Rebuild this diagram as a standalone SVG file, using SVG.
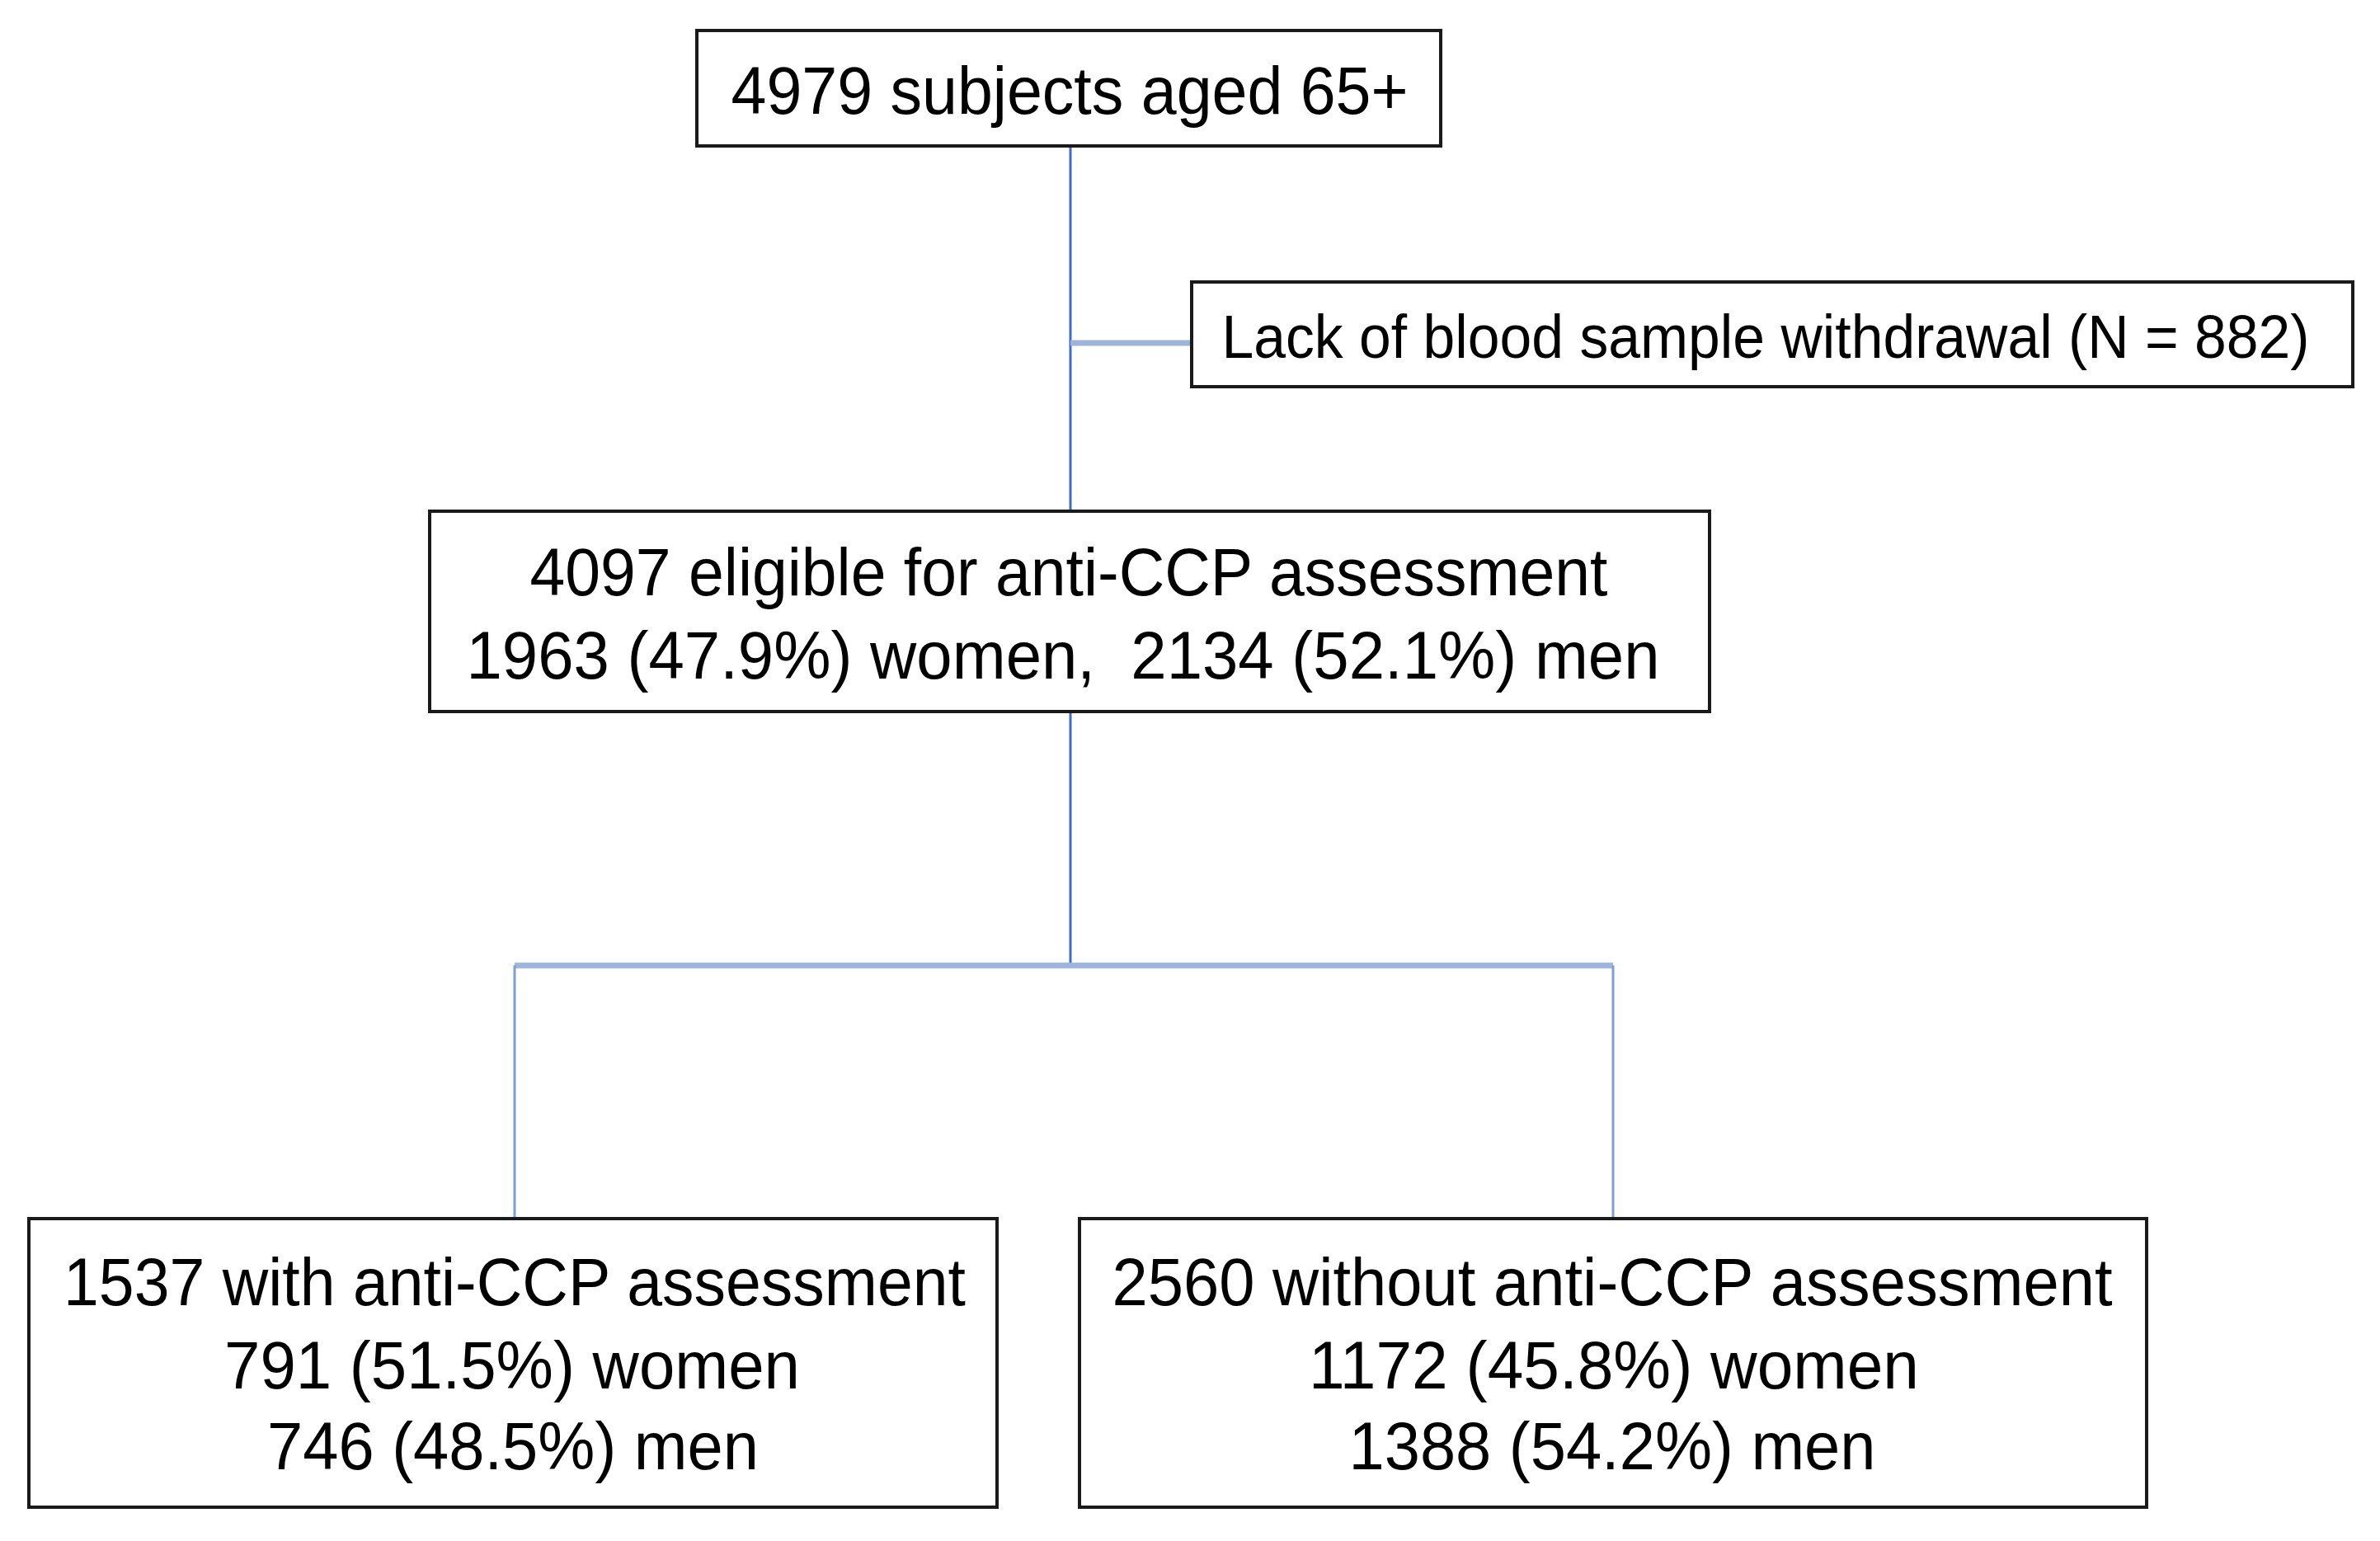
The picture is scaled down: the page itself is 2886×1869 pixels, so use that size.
<svg xmlns="http://www.w3.org/2000/svg" width="2886" height="1869" viewBox="0 0 2886 1869">
<style>
.box{fill:#fff;stroke:#1a1a1a;stroke-width:4}
.t{font-family:"Liberation Sans",Arial,sans-serif;font-size:82px;fill:#000;text-anchor:middle}
.s{font-size:74px}
.trunk{stroke:#3F6FBF;stroke-width:3;fill:none}
.branch{stroke:#9DB5DA;stroke-width:7;fill:none}
.drop{stroke:#7F9FD2;stroke-width:3;fill:none}
</style>
<rect width="2886" height="1869" fill="#fff"/>
<g id="connectors">
<line class="trunk" x1="1298" y1="177" x2="1298" y2="620"/>
<line class="branch" x1="1298" y1="416" x2="1445" y2="416"/>
<line class="trunk" x1="1298" y1="863" x2="1298" y2="1171"/>
<line class="branch" x1="624" y1="1171" x2="1956" y2="1171"/>
<line class="drop" x1="624" y1="1171" x2="624" y2="1478"/>
<line class="drop" x1="1956" y1="1171" x2="1956" y2="1478"/>
</g>
<g id="node-top">
<rect class="box" x="845" y="37" width="902" height="140"/>
<text class="t" x="1297" y="138" textLength="821" lengthAdjust="spacingAndGlyphs">4979 subjects aged 65+</text>
</g>
<g id="node-excluded">
<rect class="box" x="1445" y="342" width="1408" height="127"/>
<text class="t s" x="2141" y="434" textLength="1319" lengthAdjust="spacingAndGlyphs">Lack of blood sample withdrawal (N = 882)</text>
</g>
<g id="node-eligible">
<rect class="box" x="521" y="620" width="1552" height="243"/>
<text class="t" x="1296" y="722" textLength="1307" lengthAdjust="spacingAndGlyphs">4097 eligible for anti-CCP assessment</text>
<text class="t" x="1289" y="823" textLength="1447" lengthAdjust="spacingAndGlyphs">1963 (47.9%) women,&#160; 2134 (52.1%) men</text>
</g>
<g id="node-with">
<rect class="box" x="35" y="1478" width="1174" height="350"/>
<text class="t" x="624" y="1583" textLength="1094" lengthAdjust="spacingAndGlyphs">1537 with anti-CCP assessment</text>
<text class="t" x="621" y="1684" textLength="698" lengthAdjust="spacingAndGlyphs">791 (51.5%) women</text>
<text class="t" x="622" y="1782" textLength="596" lengthAdjust="spacingAndGlyphs">746 (48.5%) men</text>
</g>
<g id="node-without">
<rect class="box" x="1309" y="1478" width="1294" height="350"/>
<text class="t" x="1955" y="1583" textLength="1213" lengthAdjust="spacingAndGlyphs">2560 without anti-CCP assessment</text>
<text class="t" x="1957" y="1684" textLength="740" lengthAdjust="spacingAndGlyphs">1172 (45.8%) women</text>
<text class="t" x="1955" y="1782" textLength="639" lengthAdjust="spacingAndGlyphs">1388 (54.2%) men</text>
</g>
</svg>
